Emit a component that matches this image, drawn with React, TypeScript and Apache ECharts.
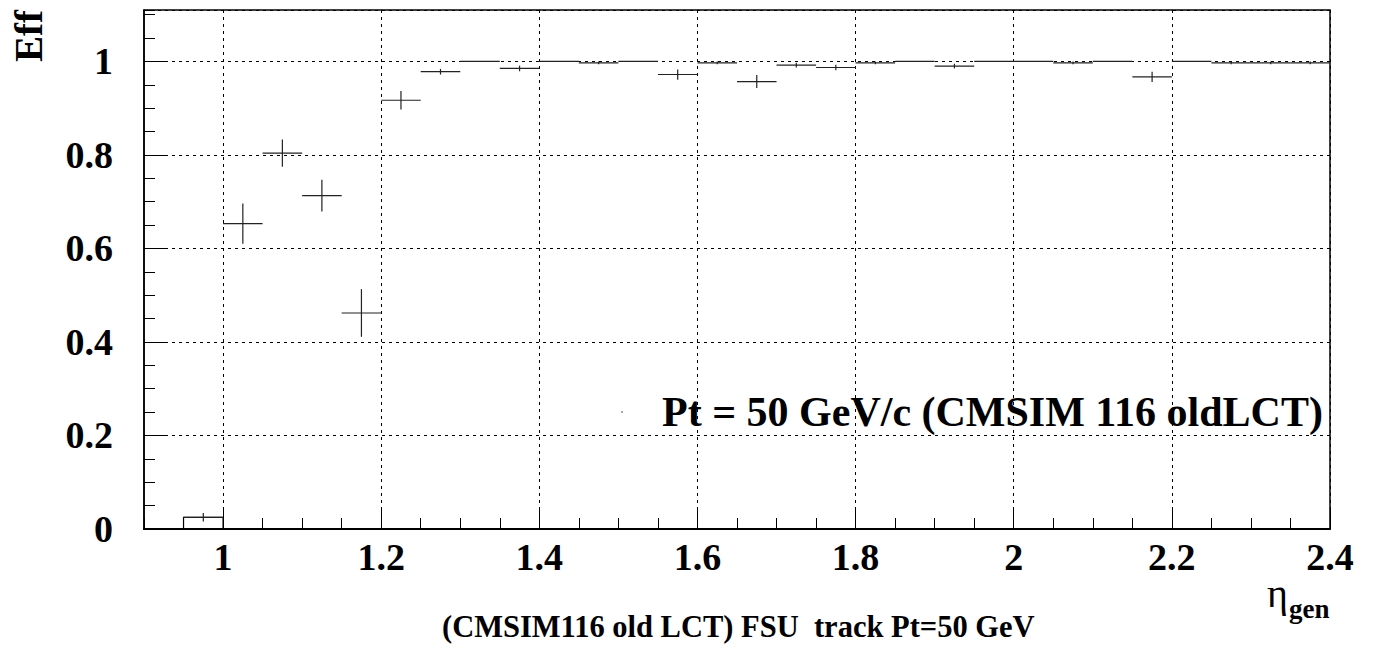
import React, { useEffect, useRef } from "react";
import * as echarts from "echarts";

// ---- data ----
const binCenters = [0.975, 1.025, 1.075, 1.125, 1.175, 1.225, 1.275, 1.325, 1.375, 1.425, 1.475, 1.525, 1.575, 1.625, 1.675, 1.725, 1.775, 1.825, 1.875, 1.925, 1.975, 2.025, 2.075, 2.125, 2.175, 2.225, 2.275, 2.325, 2.375];
const binHalfWidth = 0.025;
const effValues = [0.025, 0.653, 0.804, 0.713, 0.462, 0.917, 0.978, 1.0, 0.985, 1.0, 0.997, 1.0, 0.972, 0.997, 0.957, 0.992, 0.987, 0.997, 1.0, 0.99, 1.0, 1.0, 0.997, 1.0, 0.967, 1.0, 0.997, 0.997, 0.997];
const effErrors = [0.009, 0.043, 0.029, 0.034, 0.051, 0.02, 0.006, 0.0, 0.006, 0.0, 0.003, 0.0, 0.011, 0.003, 0.014, 0.005, 0.006, 0.003, 0.0, 0.005, 0.0, 0.0, 0.003, 0.0, 0.011, 0.0, 0.003, 0.003, 0.003];
const firstBinEdges = [0.95, 1.0];
const firstBinHeight = 0.025;
const xTickValues = [1.0, 1.2, 1.4, 1.6, 1.8, 2.0, 2.2, 2.4];
const xMin = 0.9;
const xMax = 2.4;
const yMin = 0;
const yMax = 1.11;
const yMajor = 0.2;
const minorStep = 0.05;

const titleText = "(CMSIM116 old LCT) FSU  track Pt=50 GeV";
const annotationText = "Pt = 50 GeV/c (CMSIM 116 oldLCT)";
const yTitle = "Eff";
const xTitleMain = "η";
const xTitleSub = "gen";

const SERIF = '"Liberation Serif", "Times New Roman", serif';

export default function App() {
  const ref = useRef<HTMLDivElement>(null);
  useEffect(() => {
    document.body.style.margin = "0";
    const chart = echarts.init(ref.current!, null, { renderer: "svg" });
    const pointData = binCenters.map((c, i) => [c, effValues[i], effErrors[i]]);
    const labelStyle = {
      fontFamily: SERIF,
      fontWeight: "bold",
      fontSize: 38,
      color: "#000",
    };
    const option: any = {
      animation: false,
      backgroundColor: "#fff",
      grid: {
        left: 144,
        right: 44,
        top: 10,
        bottom: 121,
        show: true,
        borderColor: "#000",
        borderWidth: 1.5,
        backgroundColor: "transparent",
      },
      xAxis: [
        {
          type: "value",
          min: xMin,
          max: xMax,
          position: "bottom",
          axisLine: { show: true, onZero: false, lineStyle: { color: "#000", width: 2 } },
          axisTick: {
            show: true,
            inside: true,
            length: 22,
            customValues: xTickValues,
            lineStyle: { color: "#000", width: 1 },
          },
          axisLabel: {
            show: true,
            customValues: xTickValues,
            margin: 9,
            lineHeight: 38,
            ...labelStyle,
            formatter: (v: number) => String(Math.round(v * 10) / 10),
          },
          splitLine: { show: true, lineStyle: { color: "#000", width: 1, type: [3, 4] } },
        },
        {
          type: "value",
          min: xMin,
          max: xMax,
          interval: minorStep,
          position: "bottom",
          axisLine: { show: false },
          axisTick: { show: true, inside: true, length: 11, lineStyle: { color: "#000", width: 1 } },
          axisLabel: { show: false },
          splitLine: { show: false },
        },
      ],
      yAxis: [
        {
          type: "value",
          min: yMin,
          max: yMax,
          interval: yMajor,
          position: "left",
          axisLine: { show: true, onZero: false, lineStyle: { color: "#000", width: 1.5 } },
          axisTick: { show: true, inside: true, length: 22, lineStyle: { color: "#000", width: 1 } },
          axisLabel: {
            show: true,
            margin: 31,
            showMaxLabel: false,
            ...labelStyle,
            formatter: (v: number) => (v > 1.0001 ? "" : String(Math.round(v * 10) / 10)),
          },
          splitLine: { show: true, lineStyle: { color: "#000", width: 1, type: [3, 4] } },
        },
        {
          type: "value",
          min: yMin,
          max: yMax,
          interval: minorStep,
          position: "left",
          axisLine: { show: false },
          axisTick: { show: true, inside: true, length: 11, lineStyle: { color: "#000", width: 1 } },
          axisLabel: { show: false },
          splitLine: { show: false },
        },
      ],
      series: [
        {
          type: "custom",
          xAxisIndex: 0,
          yAxisIndex: 0,
          data: [[firstBinEdges[0], firstBinEdges[1], firstBinHeight]],
          encode: { x: [0, 1], y: 2 },
          renderItem: (params: any, api: any) => {
            const lo = api.value(0);
            const hi = api.value(1);
            const h = api.value(2);
            const p0 = api.coord([lo, 0]);
            const p1 = api.coord([lo, h]);
            const p2 = api.coord([hi, h]);
            const p3 = api.coord([hi, 0]);
            return {
              type: "polyline",
              shape: { points: [p0, p1, p2, p3] },
              style: { stroke: "#000", lineWidth: 1.2, fill: "none" },
            };
          },
        },
        {
          type: "custom",
          xAxisIndex: 0,
          yAxisIndex: 0,
          data: pointData,
          encode: { x: 0, y: 1 },
          renderItem: (params: any, api: any) => {
            const x = api.value(0);
            const y = api.value(1);
            const e = api.value(2);
            const l = api.coord([x - binHalfWidth, y]);
            const r = api.coord([x + binHalfWidth, y]);
            const t = api.coord([x, y + e]);
            const b = api.coord([x, y - e]);
            const st = { stroke: "#222", lineWidth: 1.2 };
            return {
              type: "group",
              children: [
                { type: "line", shape: { x1: l[0], y1: l[1], x2: r[0], y2: r[1] }, style: st },
                { type: "line", shape: { x1: t[0], y1: t[1], x2: b[0], y2: b[1] }, style: st },
              ],
            };
          },
        },
      ],
      graphic: [
        {
          type: "text",
          x: 28,
          y: 36,
          rotation: Math.PI / 2,
          style: {
            text: yTitle,
            fontFamily: SERIF,
            fontWeight: "bold",
            fontSize: 39,
            fill: "#000",
            align: "center",
            verticalAlign: "middle",
          },
        },
        {
          type: "text",
          x: 662,
          y: 412,
          style: {
            text: annotationText,
            fontFamily: SERIF,
            fontWeight: "bold",
            fontSize: 42,
            fill: "#000",
            align: "left",
            verticalAlign: "middle",
          },
        },
        {
          type: "circle",
          shape: { cx: 622, cy: 412, r: 0.8 },
          style: { fill: "#777" },
        },
        {
          type: "text",
          x: 442,
          y: 627,
          style: {
            text: titleText,
            fontFamily: SERIF,
            fontWeight: "bold",
            fontSize: 30.5,
            fill: "#000",
            align: "left",
            verticalAlign: "middle",
          },
        },
        {
          type: "text",
          x: 1267,
          y: 593,
          style: {
            text: xTitleMain,
            fontFamily: SERIF,
            fontSize: 40,
            fill: "#000",
            align: "left",
            verticalAlign: "middle",
          },
        },
        {
          type: "text",
          x: 1289,
          y: 609,
          style: {
            text: xTitleSub,
            fontFamily: SERIF,
            fontWeight: "bold",
            fontSize: 27,
            fill: "#000",
            align: "left",
            verticalAlign: "middle",
          },
        },
      ],
    };
    chart.setOption(option);
    return () => chart.dispose();
  }, []);
  return (
    <div
      ref={ref}
      style={{ position: "fixed", left: 0, top: 0, width: 1374, height: 650, background: "#fff" }}
    />
  );
}
